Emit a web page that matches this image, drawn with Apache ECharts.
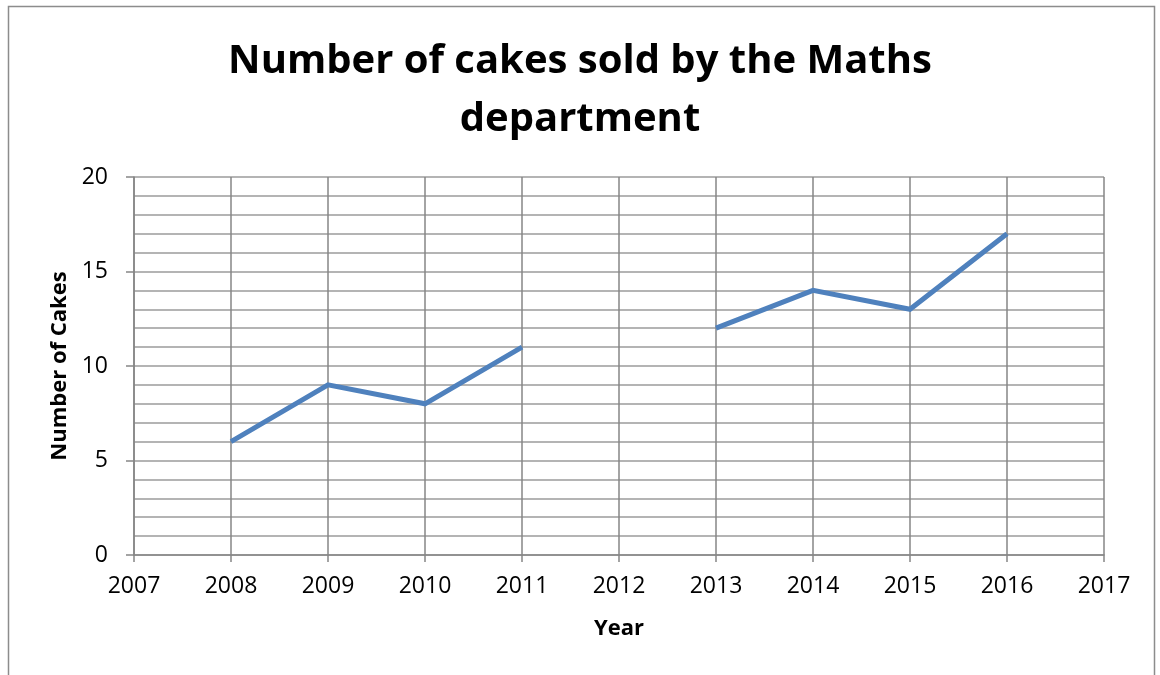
<!DOCTYPE html>
<html><head><meta charset="utf-8">
<script src="https://cdn.jsdelivr.net/npm/echarts@6/dist/echarts.min.js"></script>
<style>html,body{margin:0;padding:0;background:#fff}#c{width:1160px;height:675px}</style>
</head><body><div id="c"></div>
<script>
const years = ['2007','2008','2009','2010','2011','2012','2013','2014','2015','2016','2017'];
const cakes = [null, 6, 9, 8, 11, null, 12, 14, 13, 17, null];
const titleText = 'Number of cakes sold by the Maths\ndepartment';
const yName = 'Number of Cakes';
const xName = 'Year';

const chart = echarts.init(document.getElementById('c'), null, {renderer: 'canvas'});
const font = '"Open Sans", "Noto Sans", sans-serif';
chart.setOption({
  animation: false,
  backgroundColor: '#fff',
  graphic: [{type: 'rect', shape: {x: 8.5, y: 6.5, width: 1146, height: 700}, style: {fill: 'none', stroke: '#8c8c8c', lineWidth: 1.5}, z: 100}],
  title: {text: titleText, left: 'center', top: 28, textStyle: {fontFamily: font, fontWeight: 'bold', fontSize: 40, lineHeight: 58, color: '#000'}},
  grid: {left: 134, right: 56, top: 177, bottom: 120, containLabel: false},
  xAxis: {
    type: 'category', data: years, boundaryGap: false,
    name: xName, nameLocation: 'middle', nameGap: 63,
    nameTextStyle: {fontFamily: font, fontWeight: 'bold', fontSize: 22, color: '#000'},
    axisLine: {lineStyle: {color: '#868686', width: 1.5}},
    axisTick: {show: true, length: 7, lineStyle: {color: '#868686', width: 1.5}},
    axisLabel: {fontFamily: font, fontSize: 23, color: '#000', margin: 20},
    splitLine: {show: true, lineStyle: {color: '#868686', width: 1.5}}
  },
  yAxis: {
    type: 'value', min: 0, max: 20, interval: 5,
    name: yName, nameLocation: 'middle', nameGap: 62, nameRotate: 90,
    nameTextStyle: {fontFamily: font, fontWeight: 'bold', fontSize: 22, color: '#000'},
    axisLine: {show: true, lineStyle: {color: '#868686', width: 1.5}},
    axisTick: {show: true, length: 8, lineStyle: {color: '#868686', width: 1.5}},
    axisLabel: {fontFamily: font, fontSize: 23, color: '#000', margin: 26},
    splitLine: {show: true, lineStyle: {color: '#b4b4b4', width: 2}},
    minorTick: {show: false, splitNumber: 5},
    minorSplitLine: {show: true, lineStyle: {color: '#b4b4b4', width: 2}}
  },
  series: [{
    type: 'line', data: cakes, connectNulls: false, showSymbol: false, symbol: 'none',
    lineStyle: {color: '#4f81bd', width: 5, cap: 'butt', join: 'miter'}
  }]
});
</script></body></html>
